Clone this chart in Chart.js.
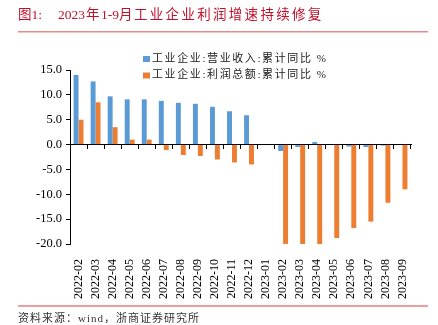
<!DOCTYPE html>
<html>
<head>
<meta charset="utf-8">
<script src="https://cdn.jsdelivr.net/npm/chart.js@4/dist/chart.umd.min.js"></script>
<style>
  html, body { margin: 0; padding: 0; background: #fff; }
  #wrap { width: 438px; height: 325px; position: relative; }
</style>
</head>
<body>
<div id="wrap"><canvas id="profit"></canvas></div>
<script>
const months = ['2022-02', '2022-03', '2022-04', '2022-05', '2022-06', '2022-07', '2022-08', '2022-09', '2022-10', '2022-11', '2022-12',
  '2023-01', '2023-02', '2023-03', '2023-04', '2023-05', '2023-06', '2023-07', '2023-08', '2023-09']
const revenueYoy = [14.0, 12.7, 9.7, 9.1, 9.1, 8.8, 8.4, 8.2, 7.6, 6.7, 5.9, null, -1.3, -0.5, 0.5, -0.1, -0.4, -0.5, -0.2, -0.1]
const profitYoy = [5.0, 8.5, 3.5, 1.0, 1.0, -1.1, -2.1, -2.3, -3.0, -3.6, -4.0, null, -22.9, -21.4, -20.6, -18.8, -16.8, -15.5, -11.7, -9.0]
const seriesNames = ['工业企业:营业收入:累计同比 %', '工业企业:利润总额:累计同比 %']
const yTicks = [15, 10, 5, 0, -5, -10, -15, -20]

const serif = '"Liberation Serif", "Times New Roman", serif'
const mixed = '"Liberation Serif", "Noto Sans CJK SC", serif'

// title, rules, legend and source note
const decor = {
  id: 'decor',
  afterDraw(chart) {
    const ctx = chart.ctx
    ctx.save()
    ctx.textBaseline = 'middle'
    ctx.fillStyle = '#c0102a'
    ctx.font = '13.5px ' + mixed
    ctx.letterSpacing = '0px'
    ctx.fillText('图1:', 18, 15)
    ctx.fillText('2023', 58, 15)
    ctx.fillText('年', 86, 15)
    ctx.fillText('1-9', 101, 15)
    ctx.fillText('月', 119, 15)
    ctx.letterSpacing = '2.3px'
    ctx.fillText('工业企业利润增速持续修复', 134, 15)

    ctx.fillStyle = '#e58a8a'
    ctx.fillRect(18, 31, 410, 1.5)
    ctx.fillStyle = '#e23b3b'
    ctx.fillRect(18, 305.5, 410, 1)

    ctx.fillStyle = '#333'
    ctx.font = '11px ' + mixed
    ctx.letterSpacing = '1px'
    ctx.fillText('资料来源：wind，浙商证券研究所', 18, 319)

    chart.data.datasets.forEach((ds, i) => {
      const y = 59 + i * 16.5
      ctx.fillStyle = ds.backgroundColor
      ctx.fillRect(143, y - 3, 7, 6)
      ctx.fillStyle = '#222'
      ctx.font = '11px ' + mixed
      ctx.letterSpacing = '1.6px'
      ctx.fillText(ds.label, 152, y)
    })
    ctx.restore()
  }
}

new Chart(document.getElementById('profit'), {
  type: 'bar',
  data: {
    labels: months,
    datasets: [
      { label: seriesNames[0], data: revenueYoy, backgroundColor: '#5b9bd5' },
      { label: seriesNames[1], data: profitYoy, backgroundColor: '#ed7d31' },
    ],
  },
  options: {
    responsive: true,
    maintainAspectRatio: false,
    animation: false,
    categoryPercentage: 0.58,
    barPercentage: 1,
    layout: { padding: { top: 70, right: 27, bottom: 0, left: 0 } },
    plugins: {
      legend: { display: false },
      tooltip: { enabled: false },
    },
    scales: {
      x: {
        position: { y: 0 },
        border: { color: '#000', width: 1 },
        grid: { drawOnChartArea: false, drawTicks: true, tickLength: 4, color: '#000' },
        ticks: { display: false },
      },
      x2: {
        type: 'category',
        position: 'bottom',
        border: { display: false },
        grid: { display: false },
        ticks: {
          minRotation: 90, maxRotation: 90, autoSkip: false, padding: 7,
          color: '#000', font: { family: serif, size: 12 },
        },
        afterFit(scale) { scale.height = 81 },
      },
      y: {
        min: -20,
        max: 15,
        border: { color: '#000', width: 1 },
        grid: { drawOnChartArea: false, drawTicks: true, tickLength: 4, color: '#000' },
        afterBuildTicks(scale) { scale.ticks = yTicks.map((v) => ({ value: v })) },
        afterFit(scale) { scale.width = 70 },
        ticks: {
          padding: 4, color: '#000', font: { family: serif, size: 12.5 },
          callback: (v) => v.toFixed(1),
        },
      },
    },
  },
  plugins: [decor],
})
</script>
</body>
</html>
